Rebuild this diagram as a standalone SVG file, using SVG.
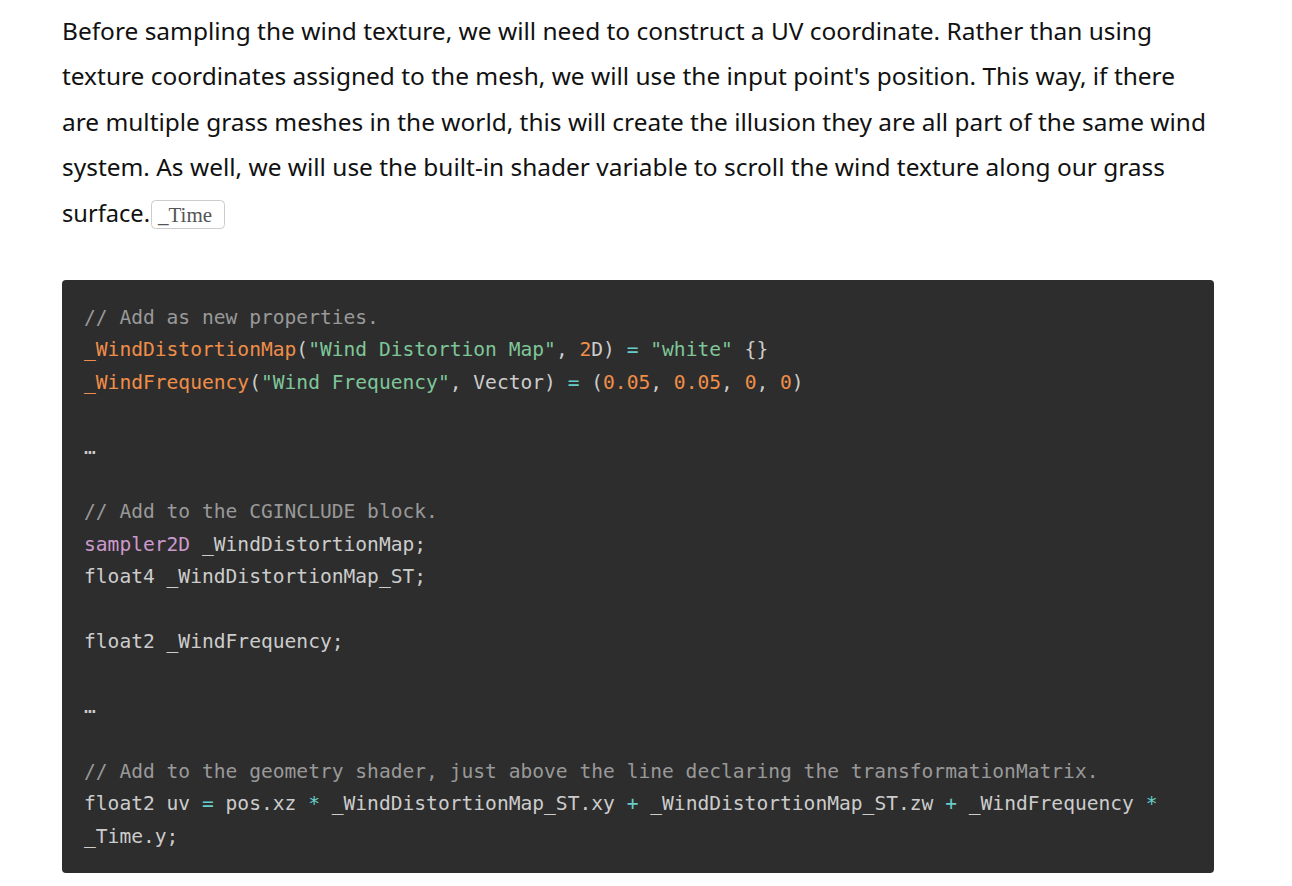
<svg xmlns="http://www.w3.org/2000/svg" width="1292" height="886" viewBox="0 0 1292 886">
<style>
.p{font-family:"Microsoft YaHei","Noto Sans","Liberation Sans",sans-serif;font-size:23px;fill:#111}
.c{font-family:"DejaVu Sans Mono","Liberation Mono",monospace;font-size:19.6px;fill:#ccc;white-space:pre}
.cm{fill:#999}.o{fill:#f08d49}.g{fill:#7ec699}.op{fill:#67cdcc}.k{fill:#cc99cd}
</style>
<rect width="1292" height="886" fill="#fff"/>
<g id="para">
<text class="p" x="62" y="40" textLength="1090" lengthAdjust="spacingAndGlyphs">Before sampling the wind texture, we will need to construct a UV coordinate. Rather than using</text>
<text class="p" x="62" y="85" textLength="1113" lengthAdjust="spacingAndGlyphs">texture coordinates assigned to the mesh, we will use the input point's position. This way, if there</text>
<text class="p" x="62" y="131" textLength="1144" lengthAdjust="spacingAndGlyphs">are multiple grass meshes in the world, this will create the illusion they are all part of the same wind</text>
<text class="p" x="62" y="176" textLength="1103" lengthAdjust="spacingAndGlyphs">system. As well, we will use the built-in shader variable to scroll the wind texture along our grass</text>
<text class="p" x="62" y="222" textLength="88" lengthAdjust="spacingAndGlyphs">surface.</text>
<rect x="151.5" y="200.5" width="73" height="28" rx="4" fill="#fff" stroke="#ccc"/>
<text x="158" y="222" font-family="Liberation Serif,serif" font-size="21" fill="#555">_Time</text>
</g>
<g id="code">
<rect x="62" y="280" width="1152" height="593" rx="4" fill="#2d2d2d"/>
<g class="c">
<text x="84" y="324" class="cm">// Add as new properties.</text>
<text x="84" y="356"><tspan class="o">_WindDistortionMap</tspan>(<tspan class="g">"Wind Distortion Map"</tspan>, <tspan class="o">2</tspan>D) <tspan class="op">=</tspan> <tspan class="g">"white"</tspan> {}</text>
<text x="84" y="389"><tspan class="o">_WindFrequency</tspan>(<tspan class="g">"Wind Frequency"</tspan>, Vector) <tspan class="op">=</tspan> (<tspan class="o">0.05</tspan>, <tspan class="o">0.05</tspan>, <tspan class="o">0</tspan>, <tspan class="o">0</tspan>)</text>
<text x="84" y="454">…</text>
<text x="84" y="518" class="cm">// Add to the CGINCLUDE block.</text>
<text x="84" y="551"><tspan class="k">sampler2D</tspan> _WindDistortionMap;</text>
<text x="84" y="583">float4 _WindDistortionMap_ST;</text>
<text x="84" y="648">float2 _WindFrequency;</text>
<text x="84" y="713">…</text>
<text x="84" y="778" class="cm">// Add to the geometry shader, just above the line declaring the transformationMatrix.</text>
<text x="84" y="810">float2 uv <tspan class="op">=</tspan> pos.xz <tspan class="op">*</tspan> _WindDistortionMap_ST.xy <tspan class="op">+</tspan> _WindDistortionMap_ST.zw <tspan class="op">+</tspan> _WindFrequency <tspan class="op">*</tspan></text>
<text x="84" y="843">_Time.y;</text>
</g>
</g>
</svg>
